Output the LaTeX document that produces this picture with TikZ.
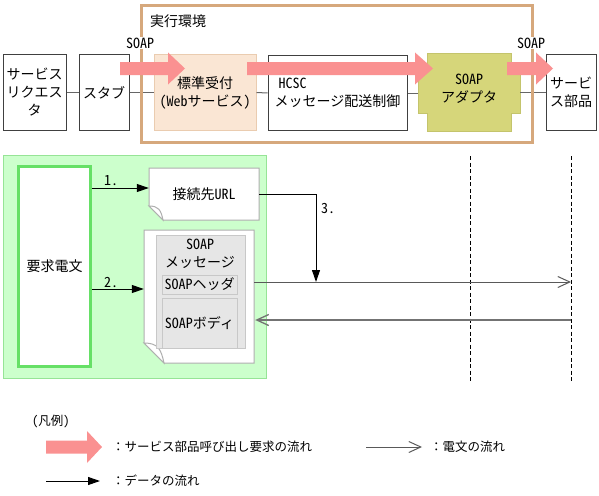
\documentclass[tikz,border=0pt]{standalone}
\usepackage{fontspec}
\setmainfont{Noto Sans CJK JP}[RawFeature=+hwid]
\newfontfamily\cjkfull{Noto Sans CJK JP}
\usetikzlibrary{arrows.meta,calc}

\definecolor{pinkarr}{RGB}{250,145,145}
\definecolor{frameor}{RGB}{214,168,124}
\definecolor{peachfill}{RGB}{250,230,212}
\definecolor{peachdraw}{RGB}{234,204,176}
\definecolor{olivefill}{RGB}{214,214,122}
\definecolor{olivedraw}{RGB}{196,196,108}
\definecolor{panelfill}{RGB}{204,255,204}
\definecolor{paneldraw}{RGB}{150,228,150}
\definecolor{greenthick}{RGB}{102,224,102}
\definecolor{grayfill}{RGB}{230,230,230}
\definecolor{graydraw}{RGB}{200,200,200}
\definecolor{docdraw}{RGB}{175,175,175}

\newcommand{\pinkarrowpath}[4]{\fill[pinkarr] (#1,#4-6.5) -- (#2,#4-6.5) -- (#2,#4-16) -- (#3,#4) -- (#2,#4+16) -- (#2,#4+6.5) -- (#1,#4+6.5) -- cycle;}
% doc shape: x1 y1 x2 y2 fold
\newcommand{\docpath}[5]{%
  \filldraw[fill=white,draw=docdraw,line width=1pt] (#1,#2) -- (#3,#2) -- (#3,#4) -- (#1+#5,#4) -- (#1,#4-#5) -- cycle;
  \filldraw[fill=white,draw=docdraw,line width=1pt] (#1,#4-#5) .. controls (#1+0.7*#5,#4-#5) and (#1+0.85*#5,#4-0.7*#5) .. (#1+#5,#4) -- cycle;}
\newcommand{\fcolon}{{\cjkfull ：}}

\tikzset{
  box/.style={draw=black!75, line width=1pt, fill=white, inner sep=0pt, align=center},
  conn/.style={draw=black!60, line width=1pt},
  dataarrow/.style={draw=black, line width=1pt, -{Triangle[length=12pt,width=8pt]}},
  msgarrow/.style={draw=black!65, line width=1pt, -{Straight Barb[length=12pt,width=11pt]}},
  lifeline/.style={draw=black, line width=1pt, dash pattern=on 4pt off 2.5pt},
  soaplbl/.style={fill=white, inner sep=1pt},
  plain/.style={inner sep=0pt, align=center},
  legend/.style={inner sep=0pt, anchor=west, font=\fontsize{12.5}{15}\selectfont},
}

\begin{document}
\begin{tikzpicture}[x=1pt,y=-1pt,font=\fontsize{14}{18}\selectfont]
\useasboundingbox (0,0) rectangle (599,495);

% ---- upper part ----
\node[box, minimum width=63, minimum height=75] (req) at (34.5,92.5) {サービス\\リクエス\\タ};
\node[box, minimum width=50, minimum height=75] (stub) at (104,92.5) {スタブ};
\node[box, fill=peachfill, draw=peachdraw, minimum width=102, minimum height=76] (std) at (205,92.5) {標準受付\\(Webサービス)};
\node[box, minimum width=139, minimum height=75, align=left] (hcsc) at (337.5,93) {\hspace*{4pt}HCSC\\メッセージ配送制御};
\filldraw[fill=olivefill, draw=olivedraw, line width=1pt]
  (427,54) -- (511,54) -- (511,67) -- (520,67) -- (520,113) -- (511,113) -- (511,131)
  -- (427,131) -- (427,113) -- (418,113) -- (418,67) -- (427,67) -- cycle;
\node[plain, minimum width=102, minimum height=77] (ad) at (469,89) {SOAP\\アダプタ};
\node[box, minimum width=50, minimum height=75] (svc) at (571,92.5) {サービ\\ス部品};

\draw[conn] (req.east) -- (stub.west);
\draw[conn] (stub.east) -- (std.west);
\draw[conn] (std.east) -- (hcsc.west);
\draw[conn] (hcsc.east) -- (ad.west |- hcsc.east);
\draw[conn] (ad.east |- svc.west) -- (svc.west);

\draw[frameor, line width=3pt] (141.5,5.5) rectangle (532,142.5);
\node[plain, anchor=west] (env) at (150,21) {実行環境};
\node[soaplbl] (soap1) at (140,43) {SOAP};
\node[soaplbl] (soap2) at (531,43) {SOAP};

\pinkarrowpath{120}{168}{185}{68.5}
\pinkarrowpath{247}{415}{433}{68.5}
\pinkarrowpath{507}{536}{553}{68.5}

% ---- lower part ----
\filldraw[fill=panelfill, draw=paneldraw, line width=1pt] (3,155) rectangle (266,378);
\node[box, draw=greenthick, line width=3pt, minimum width=72, minimum height=200] (reqmsg) at (54.5,266.5) {要求電文};

\docpath{149}{168}{259}{220}{14}
\node[plain, minimum width=110, minimum height=52] (url) at (204,194) {接続先URL};

\docpath{144}{230}{254}{363}{20}
\node[plain, minimum width=110, minimum height=133] (soapdoc) at (199,296.5) {};
\node[box, fill=grayfill, draw=graydraw, minimum width=89, minimum height=113] (inner) at (200.5,291.5) {};
\node[plain] (msgtitle) at (200,253.5) {SOAP\\メッセージ};
\node[box, fill=grayfill, draw=graydraw, minimum width=75, minimum height=19] (hdr) at (199.5,284.5) {SOAPヘッダ};
\node[box, fill=grayfill, draw=graydraw, minimum width=75, minimum height=50] (bdy) at (199.5,323) {SOAPボディ};

\coordinate (a1) at (0,188);
\coordinate (a2) at (0,289);
\draw[dataarrow] (reqmsg.east |- a1) -- (url.west |- a1);
\node[plain] (n1) at (111,181) {1.};
\draw[dataarrow] (reqmsg.east |- a2) -- (soapdoc.west |- a2);
\node[plain] (n2) at (111,282) {2.};

\coordinate (j3) at (316,282);
\coordinate (r) at (0,320);
\coordinate (l1t) at (470,156);
\coordinate (l1b) at (470,383);
\coordinate (l2t) at (571,156);
\coordinate (l2b) at (571,383);

\draw[lifeline] (l1t) -- (l1b);
\draw[lifeline] (l2t) -- (l2b);

\draw[msgarrow] (soapdoc.east |- j3) -- (l2t |- j3);
\draw[msgarrow, draw=black!55, line width=1.3pt] (l2t |- r) -- ($(soapdoc.east |- r)+(1,0)$);
\draw[dataarrow] (url.east) -| (j3);
\node[plain] (n3) at (328,208) {3.};

% ---- legend ----
\node[legend] (lg) at (32,421) {(凡例)};
\pinkarrowpath{46}{87}{102}{447}
\node[legend] (lgt1) at (112,447) {\fcolon サービス部品呼び出し要求の流れ};
\coordinate (lm1) at (366,447);
\coordinate (lm2) at (422,447);
\draw[msgarrow] (lm1) -- (lm2);
\node[legend] (lgt2) at (430,447) {\fcolon 電文の流れ};
\coordinate (ld1) at (46,481);
\coordinate (ld2) at (100,481);
\draw[dataarrow] (ld1) -- (ld2);
\node[legend] (lgt3) at (112,481) {\fcolon データの流れ};
\end{tikzpicture}
\end{document}
